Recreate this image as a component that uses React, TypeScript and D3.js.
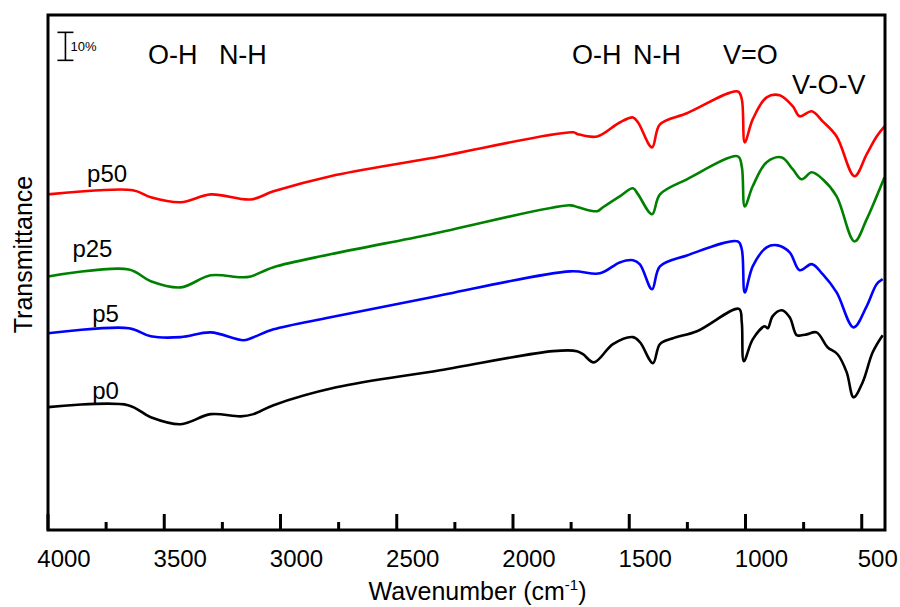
import React from 'react';
import * as d3 from 'd3';

// wavenumber (cm-1) / transmittance (%) pairs, offset per sample
const p0: [number, number][] = [
  [4000, 42.9], [3656, 43.6], [3558, 39.3], [3429, 36.8], [3300, 40.4], [3171, 39.6],
  [3116, 40.4], [3030, 43.6], [2760, 50.0], [2314, 56.1], [1828, 62.9], [1725, 62.9],
  [1699, 61.8], [1652, 58.9], [1570, 65.4], [1484, 67.9], [1454, 66.1],
  [1398, 58.6], [1368, 65.4], [1312, 67.5], [1209, 70.0], [1028, 78.0], [1016, 73.2], [1007, 59.3],
  [969, 67.1], [917, 71.8], [904, 71.1], [883, 75.4], [844, 77.5], [810, 75.0],
  [780, 68.6], [758, 68.6], [737, 68.9], [694, 69.6], [647, 64.3], [604, 61.8],
  [565, 55.4], [535, 46.4], [496, 51.8], [453, 62.5], [410, 68.6],
];

const p5: [number, number][] = [
  [4000, 69.3], [3652, 71.1], [3558, 68.2], [3429, 67.9], [3300, 69.6], [3158, 66.8],
  [3116, 67.9], [3030, 70.7], [2785, 75.0], [2356, 82.1], [1754, 91.4], [1626, 90.7],
  [1541, 94.6], [1484, 95.4], [1454, 93.9], [1402, 85.0], [1368, 93.2], [1252, 97.1],
  [1033, 102.1], [1016, 99.3], [1003, 83.9], [969, 93.2], [909, 100.0], [861, 100.7],
  [810, 98.2], [767, 91.8], [715, 94.0], [668, 90.4], [608, 83.9], [535, 71.4],
  [479, 78.9], [436, 86.8], [410, 88.6],
];

const p25: [number, number][] = [
  [4000, 89.6], [3652, 92.1], [3558, 87.9], [3429, 85.7], [3300, 90.0], [3171, 89.3],
  [3128, 89.6], [3030, 92.9], [2785, 97.5], [2356, 104.6], [1754, 115.0], [1720, 114.3],
  [1638, 112.9], [1613, 114.3], [1541, 118.2], [1484, 121.1], [1462, 118.9], [1402, 111.8],
  [1368, 118.9], [1252, 124.3], [1033, 132.5], [1016, 128.9], [1003, 114.6], [969, 121.8],
  [909, 130.4], [844, 132.1], [797, 127.9], [758, 124.3], [715, 126.8], [668, 124.3],
  [608, 118.2], [531, 102.1], [479, 110.0], [436, 118.2], [402, 125.0],
];

const p50: [number, number][] = [
  [4000, 118.9], [3635, 120.4], [3558, 117.9], [3429, 116.1], [3300, 118.9], [3128, 117.1],
  [3030, 120.0], [2785, 125.4], [2356, 131.8], [1741, 141.1], [1720, 140.4], [1638, 139.6],
  [1541, 144.6], [1484, 146.4], [1462, 144.6], [1402, 135.7], [1368, 143.9], [1252, 147.9],
  [1033, 155.7], [1016, 152.9], [1003, 137.5], [969, 145.7], [909, 153.6], [853, 154.3],
  [797, 150.4], [767, 146.8], [715, 148.6], [668, 145.0], [608, 139.6], [531, 125.4],
  [479, 133.2], [436, 139.6], [402, 143.2],
];

const seriesNames = ['p0', 'p5', 'p25', 'p50'];
const seriesData = [p0, p5, p25, p50];
const seriesColors = ['#000000', '#0000ff', '#008000', '#ff0000'];
// label anchors [wavenumber, transmittance]
const seriesLabelAt: [number, number][] = [[3810, 45.7], [3810, 73.2], [3895, 96.4], [3832, 123.2]];

const bandLabels = ['O-H', 'N-H', 'O-H', 'N-H', 'V=O', 'V-O-V'];
const bandLabelAt: [number, number][] = [
  [3570, 165.4], [3265, 165.4], [1746, 165.4], [1484, 165.4], [1097, 165.4], [800, 154.6],
];

const xTicks = [4000, 3500, 3000, 2500, 2000, 1500, 1000, 500];
const xMinorTicks = [3750, 3250, 2750, 2250, 1750, 1250, 750];

const W = 900;
const H = 607;
const margin = { left: 48, right: 15, top: 15, bottom: 77 };
const font = '"Liberation Sans", Arial, sans-serif';

export default function App() {
  const x = d3.scaleLinear().domain([4000, 400]).range([margin.left, W - margin.right]);
  const y = d3.scaleLinear().domain([-1, 183]).range([H - margin.bottom, margin.top]);
  const line = d3.line<[number, number]>()
    .x(d => x(d[0]))
    .y(d => y(d[1]))
    .curve(d3.curveCatmullRom.alpha(0.5));

  const x0 = x.range()[0], x1 = x.range()[1];
  const y0 = y.range()[0], y1 = y.range()[1];

  // 10% scale bar
  const barTop = y(176.8);
  const barBot = y(166.8);
  const barX = x(3925);

  return (
    <svg width={W} height={H} style={{ position: 'absolute', left: 0, top: 0 }} fontFamily={font}>
      <rect width={W} height={H} fill="#fff" />
      {seriesData.map((s, i) => (
        <path key={seriesNames[i]} d={line(s) || ''} fill="none" stroke={seriesColors[i]}
          strokeWidth={2.6} strokeLinejoin="round" />
      ))}
      {seriesNames.map((n, i) => (
        <text key={n} x={x(seriesLabelAt[i][0])} y={y(seriesLabelAt[i][1])} fontSize={24} fill="#000">{n}</text>
      ))}
      {bandLabels.map((b, i) => (
        <text key={i} x={x(bandLabelAt[i][0])} y={y(bandLabelAt[i][1])} fontSize={27} fill="#000">{b}</text>
      ))}

      {/* scale bar */}
      <g stroke="#000" strokeWidth={1.6}>
        <line x1={barX} x2={barX} y1={barTop} y2={barBot} />
        <line x1={barX - 8} x2={barX + 8} y1={barTop} y2={barTop} />
        <line x1={barX - 8} x2={barX + 8} y1={barBot} y2={barBot} />
      </g>
      <text x={barX + 5} y={barTop + 19} fontSize={13}>10%</text>

      {/* ticks */}
      <g stroke="#000" strokeWidth={3}>
        {xTicks.map(t => <line key={t} x1={x(t)} x2={x(t)} y1={y0} y2={y0 - 16} />)}
        {xMinorTicks.map(t => <line key={t} x1={x(t)} x2={x(t)} y1={y0} y2={y0 - 8} />)}
      </g>
      {xTicks.map(t => (
        <text key={t} x={x(t) + 16} y={y0 + 37} fontSize={24} textAnchor="middle">{t}</text>
      ))}

      {/* frame */}
      <rect x={x0} y={y1} width={x1 - x0} height={y0 - y1} fill="none" stroke="#000" strokeWidth={3} />

      <text x={(x0 + x1) / 2 + 11} y={H - 7} fontSize={25} textAnchor="middle">
        Wavenumber (cm<tspan dy={-10} fontSize={15}>-1</tspan><tspan dy={10}>)</tspan>
      </text>
      <text transform={`translate(32,${(y0 + y1) / 2 - 18}) rotate(-90)`} fontSize={25} textAnchor="middle">
        Transmittance
      </text>
    </svg>
  );
}
